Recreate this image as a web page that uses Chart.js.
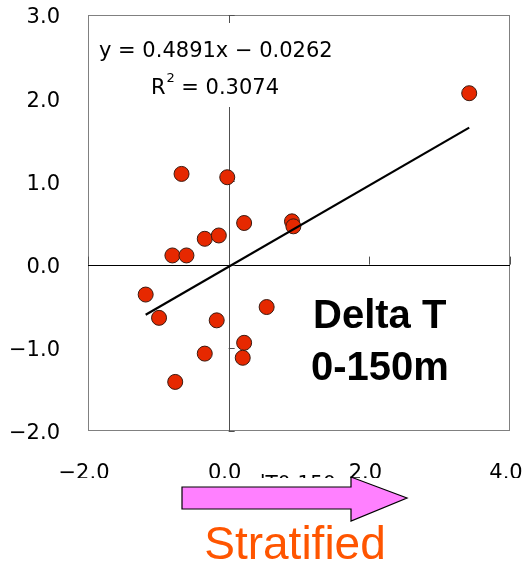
<!DOCTYPE html>
<html>
<head>
<meta charset="utf-8">
<script src="https://cdn.jsdelivr.net/npm/chart.js@4"></script>
<style>
	html, body { margin: 0; padding: 0; background: #fff; }
	#wrap { width: 529px; height: 565px; }
</style>
</head>
<body>
<div id="wrap"><canvas id="dtChart" width="529" height="565"></canvas></div>
<script>
// Delta T (0-150m) anomalies vs. response, with the fitted regression line
const dtValues = [-0.67, -0.02, 0.22, 0.90, 0.92, -0.34, -0.14, -0.80, -0.60,
	-1.18, -0.99, -0.17, 0.54, 0.22, 0.20, -0.34, -0.76, 3.42];
const respValues = [1.09, 1.05, 0.50, 0.52, 0.46, 0.31, 0.35, 0.11, 0.11,
	-0.36, -0.64, -0.67, -0.51, -0.94, -1.12, -1.07, -1.41, 2.06];

// trend line as reported on the chart
const slope = 0.4891;
const intercept = -0.0262;
const rSquared = '0.3074';

const xTicks = [-2, 0, 2, 4];
const yTicks = [-2, -1, 0, 1, 2, 3];

const points = dtValues.map((x, i) => ({ x: x, y: respValues[i] }));
const xMin = Math.min(...dtValues);
const xMax = Math.max(...dtValues);
const trendPoints = [
	{ x: xMin, y: slope * xMin + intercept },
	{ x: xMax, y: slope * xMax + intercept }
];

function fmt(v) {
	const s = Math.abs(v).toFixed(1);
	return v < 0 ? '\u2212' + s : s;
}

const decorations = {
	id: 'decorations',
	beforeDatasetsDraw(chart) {
		const c = chart.ctx;
		const a = chart.chartArea;
		const xs = chart.scales.x;
		const ys = chart.scales.y;
		const x0 = xs.getPixelForValue(0);
		const y0 = ys.getPixelForValue(0);
		c.save();
		// plot frame
		c.strokeStyle = '#808080';
		c.lineWidth = 1;
		c.strokeRect(a.left + 0.5, a.top + 0.5, a.right - a.left - 1, a.bottom - a.top - 1);
		// crossing axes
		c.strokeStyle = '#505050';
		c.beginPath();
		c.moveTo(Math.round(x0) + 0.5, a.top);
		c.lineTo(Math.round(x0) + 0.5, a.bottom);
		c.stroke();
		c.strokeStyle = '#000';
		c.beginPath();
		c.moveTo(a.left, Math.round(y0) + 0.5);
		c.lineTo(a.right, Math.round(y0) + 0.5);
		c.stroke();
		// tick marks on the crossing axes
		c.strokeStyle = '#505050';
		c.beginPath();
		yTicks.forEach(v => {
			const py = Math.round(ys.getPixelForValue(v)) + 0.5;
			c.moveTo(x0, py);
			c.lineTo(x0 + 6, py);
		});
		xTicks.forEach(v => {
			const px = Math.round(xs.getPixelForValue(v)) + 0.5;
			c.moveTo(px, y0);
			c.lineTo(px, y0 - 8);
		});
		c.stroke();
		// equation label
		c.fillStyle = '#fff';
		c.fillRect(92, 23, 248, 84);
		c.fillStyle = '#000';
		c.font = '21px "DejaVu Sans"';
		c.textBaseline = 'alphabetic';
		c.fillText('y = ' + slope.toFixed(4) + 'x \u2212 ' + Math.abs(intercept).toFixed(4), 99, 57);
		c.fillText('R', 151, 94);
		const rw = c.measureText('R').width;
		c.font = '13px "DejaVu Sans"';
		c.fillText('2', 151 + rw + 1, 82);
		c.font = '21px "DejaVu Sans"';
		c.fillText(' = ' + rSquared, 151 + rw + 9, 94);
		c.restore();
	},
	afterDraw(chart) {
		const c = chart.ctx;
		const xs = chart.scales.x;
		c.save();
		c.fillStyle = '#000';
		c.font = 'bold 40px "Liberation Sans"';
		c.textBaseline = 'alphabetic';
		c.fillText('Delta T', 313, 328);
		c.fillText('0-150m', 311, 380);
		// axis title, mostly hidden beneath the arrow
		c.font = '20px "DejaVu Sans"';
		c.textAlign = 'center';
		c.fillText('dT0-150m', (xs.left + xs.right) / 2 + 5, 489);
		c.fillStyle = '#fff';
		c.fillRect(0, 478, 529, 87);
		// stratified arrow
		c.beginPath();
		c.moveTo(182, 487);
		c.lineTo(351, 487);
		c.lineTo(351, 477);
		c.lineTo(407, 498);
		c.lineTo(351, 521);
		c.lineTo(351, 509);
		c.lineTo(182, 509);
		c.closePath();
		c.fillStyle = '#ff80ff';
		c.fill();
		c.strokeStyle = '#000';
		c.lineWidth = 1.2;
		c.stroke();
		c.fillStyle = '#ff5500';
		c.font = '46px "Liberation Sans"';
		c.textAlign = 'center';
		c.fillText('Stratified', 295, 559);
		c.restore();
	}
};

new Chart(document.getElementById('dtChart'), {
	type: 'scatter',
	data: {
		datasets: [
			{
				type: 'line',
				data: trendPoints,
				borderColor: '#000',
				borderWidth: 2.2,
				pointRadius: 0,
				fill: false,
				order: 0
			},
			{
				data: points,
				backgroundColor: '#e62800',
				borderColor: '#3a1a10',
				borderWidth: 1,
				pointRadius: 7.5,
				order: 1
			}
		]
	},
	options: {
		responsive: false,
		animation: false,
		layout: { padding: { top: 15, right: 19, left: 0, bottom: 0 } },
		plugins: { legend: { display: false }, tooltip: { enabled: false } },
		scales: {
			x: {
				type: 'linear',
				min: -2,
				max: 4,
				afterBuildTicks: s => { s.ticks = xTicks.map(v => ({ value: v })); },
				afterFit: s => {
					s.height = 134;
					s.paddingLeft = 0;
					s.paddingRight = 0;
				},
				grid: { display: false, drawTicks: false },
				border: { display: false },
				ticks: {
					padding: 30,
					labelOffset: -4,
					maxRotation: 0,
					color: '#000',
					font: { family: 'DejaVu Sans', size: 21 },
					callback: v => fmt(v)
				}
			},
			y: {
				type: 'linear',
				min: -2,
				max: 3,
				afterBuildTicks: s => { s.ticks = yTicks.map(v => ({ value: v })); },
				afterFit: s => {
					s.width = 88;
					s.paddingTop = 0;
					s.paddingBottom = 0;
				},
				grid: { display: false, drawTicks: false },
				border: { display: false },
				ticks: {
					padding: 28,
					labelOffset: 3,
					color: '#000',
					font: { family: 'DejaVu Sans', size: 21 },
					callback: v => fmt(v)
				}
			}
		}
	},
	plugins: [decorations]
});
</script>
</body>
</html>
